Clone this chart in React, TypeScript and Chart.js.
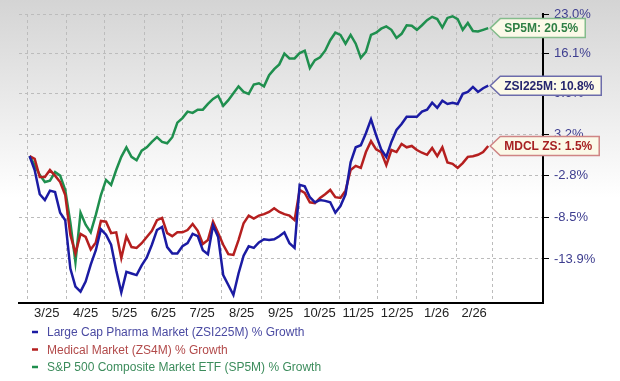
import React, { useEffect, useRef } from "react";
import { Chart, registerables } from "chart.js";

Chart.register(...registerables);

// ---------- data ----------
const BASE = Date.UTC(2025, 2, 1); // Mar 1, 2025
const DAY_MS = 86400000;
const FIRST_DAY = 2; // first sample: Mar 3, 2025
const STEP_DAYS = 4;

// Large Cap Pharma Market (ZSI225M) % growth
const ZSI225M = [
  0.0, -2.0, -5.4, -6.2, -4.9, -5.1, -7.9, -8.9, -15.1, -17.3,
  -17.9, -16.7, -14.6, -12.8, -10.1, -10.8, -12.1, -15.3, -18.0, -15.5,
  -15.7, -15.9, -14.7, -13.7, -12.1, -10.2, -9.8, -12.4, -13.2, -13.2,
  -12.3, -11.9, -10.7, -11.0, -12.8, -13.3, -9.6, -11.1, -15.9, -17.1,
  -18.3, -15.7, -13.5, -12.3, -12.5, -11.8, -11.4, -11.5, -11.4, -11.0,
  -10.5, -11.9, -12.5, -4.1, -4.3, -5.8, -6.5, -6.2, -6.3, -6.5,
  -7.9, -7.0, -5.4, -0.9, 1.3, 1.6, 3.4, 5.5, 3.1, 1.0,
  -0.1, 2.1, 3.9, 4.8, 5.9, 5.9, 5.9, 6.7, 7.0, 8.1,
  7.3, 8.4, 7.9, 8.1, 7.9, 9.5, 9.8, 10.6, 9.8, 10.4,
  10.8,
];

// Medical Market (ZS4M) % growth
const ZS4M = [
  0.0, -0.4, -3.0, -3.0, -2.0, -2.8, -3.7, -5.5, -10.8, -13.2,
  -10.7, -11.1, -12.7, -11.8, -9.0, -9.1, -10.6, -10.5, -13.8, -11.0,
  -12.4, -12.5, -11.9, -11.1, -10.3, -8.9, -8.6, -10.6, -11.0, -10.5,
  -10.5, -10.2, -9.4, -10.3, -12.0, -11.5, -9.1, -10.6, -12.1, -13.3,
  -13.4, -11.5, -9.3, -8.3, -8.7, -8.3, -8.1, -7.8, -7.3, -7.8,
  -8.1, -8.3, -8.9, -4.8, -5.2, -6.5, -6.6, -5.9, -5.4, -4.8,
  -5.8, -5.9, -4.9, -2.0, -1.4, -1.7, 0.6, 2.2, 1.0, 0.6,
  -1.3, 0.9, 0.6, 1.8, 1.3, 1.5, 0.9, 0.5, 0.2, 1.2,
  0.0, 1.3, -0.9, -1.1, -1.7, -1.0, -0.1, 0.0, 0.2, 0.6,
  1.5,
];

// S&P 500 Composite Market ETF (SP5M) % growth
const SP5M = [
  0.0, -1.3, -2.7, -3.7, -3.5, -2.3, -2.8, -4.8, -9.2, -14.3,
  -7.9, -9.5, -10.5, -8.2, -5.5, -3.4, -4.1, -2.0, -0.1, 1.3,
  -0.1, -0.6, 0.8, 1.3, 2.1, 2.8, 2.1, 1.9, 2.8, 5.0,
  5.7, 6.7, 6.5, 7.0, 7.0, 7.9, 8.7, 9.2, 7.6, 8.5,
  9.6, 10.7, 9.8, 9.5, 11.0, 11.2, 10.7, 12.5, 13.5, 14.3,
  16.1, 15.3, 15.3, 16.2, 16.6, 13.7, 15.0, 15.5, 16.6, 18.4,
  19.7, 19.3, 17.8, 19.3, 17.8, 15.4, 16.4, 19.3, 19.7, 20.4,
  20.8, 20.2, 18.8, 19.5, 21.0, 20.9, 20.2, 21.0, 21.9, 22.5,
  22.1, 20.6, 22.3, 22.6, 22.1, 20.2, 21.4, 20.0, 19.9, 20.2,
  20.5,
];

const DATES = ZSI225M.map((_, i) =>
  new Date(BASE + (FIRST_DAY + STEP_DAYS * i) * DAY_MS).toISOString().slice(0, 10)
);

const MONTH_LABELS = ["3/25", "4/25", "5/25", "6/25", "7/25", "8/25", "9/25", "10/25", "11/25", "12/25", "1/26", "2/26"];
const Y_TICKS = [23.0, 16.1, 9.6, 3.2, -2.8, -8.5, -13.9];
const Y_MAX = 23.0;
const Y_MIN = -19.25;
const X_MIN_DAY = -6.3;
const X_MAX_DAY = 405;

const SERIES_NAMES = ["ZSI225M", "MDCL ZS", "SP5M"];
const LEGEND_LABELS = [
  "Large Cap Pharma Market (ZSI225M) % Growth",
  "Medical Market (ZS4M) % Growth",
  "S&P 500 Composite Market ETF (SP5M) % Growth",
];

// ---------- styles ----------
const FONT = '"Liberation Sans", Arial, sans-serif';
const LINE_COLORS = ["#1b1ba3", "#b51f1f", "#1f8f4e"];
const LEGEND_TEXT_COLORS = ["#4a4aa2", "#b24a4a", "#3c8c5c"];
const CALLOUT_BORDERS = ["#6c6cab", "#cf8585", "#84bc8c"];
const CALLOUT_TEXT = ["#26266e", "#a72222", "#2f7f45"];
const CALLOUT_FILL = "#fbf9e8";
const GRID_COLOR = "#bcbcbc";

const dayOf = (d: string) => (Date.parse(d) - BASE) / DAY_MS;
const monthStart = (k: number) => (Date.UTC(2025, 2 + k, 1) - BASE) / DAY_MS;
const toY = (v: number) => Math.log(1 + v / 100);

const SERIES = [ZSI225M, ZS4M, SP5M];

const bgPlugin = {
  id: "bgGradient",
  beforeDraw(chart: any) {
    const { ctx, width, height } = chart;
    const g = ctx.createLinearGradient(0, 0, 0, height);
    g.addColorStop(0, "#d4d4d4");
    g.addColorStop(0.52, "#ffffff");
    g.addColorStop(1, "#ffffff");
    ctx.save();
    ctx.fillStyle = g;
    ctx.fillRect(0, 0, width, height);
    ctx.restore();
  },
};

const overlayPlugin = {
  id: "overlay",
  afterDraw(chart: any) {
    const ctx = chart.ctx;
    ctx.save();
    // callouts
    ctx.font = `bold 12px ${FONT}`;
    ctx.textBaseline = "middle";
    chart.data.datasets.forEach((_ds: any, i: number) => {
      const meta = chart.getDatasetMeta(i);
      const pt = meta.data[meta.data.length - 1];
      const series = SERIES[i];
      const text = `${SERIES_NAMES[i]}: ${series[series.length - 1].toFixed(1)}%`;
      const tipX = pt.x + 2;
      const y = pt.y;
      const h = 19;
      const tw = ctx.measureText(text).width;
      const bodyX = tipX + 10;
      const right = tipX + 14 + tw + 7;
      ctx.beginPath();
      ctx.moveTo(tipX, y);
      ctx.lineTo(bodyX, y - h / 2);
      ctx.lineTo(right, y - h / 2);
      ctx.lineTo(right, y + h / 2);
      ctx.lineTo(bodyX, y + h / 2);
      ctx.closePath();
      ctx.fillStyle = CALLOUT_FILL;
      ctx.fill();
      ctx.lineWidth = 1.5;
      ctx.strokeStyle = CALLOUT_BORDERS[i];
      ctx.stroke();
      ctx.fillStyle = CALLOUT_TEXT[i];
      ctx.fillText(text, tipX + 14, y + 1);
    });
    // legend
    ctx.font = `12px ${FONT}`;
    LEGEND_LABELS.forEach((label, i) => {
      const cy = 332 + i * 17.5;
      ctx.beginPath();
      ctx.moveTo(32, cy);
      ctx.lineTo(38, cy);
      ctx.lineWidth = 2.5;
      ctx.strokeStyle = LINE_COLORS[i];
      ctx.stroke();
      ctx.fillStyle = LEGEND_TEXT_COLORS[i];
      ctx.fillText(label, 47, cy + 1);
    });
    ctx.restore();
  },
};

export default function App() {
  const ref = useRef<HTMLCanvasElement>(null);
  useEffect(() => {
    Chart.defaults.font.family = FONT;
    const chart = new Chart(ref.current as HTMLCanvasElement, {
      type: "line",
      data: {
        datasets: SERIES.map((s, i) => ({
          label: LEGEND_LABELS[i],
          data: s.map((v, j) => ({ x: dayOf(DATES[j]), y: toY(v) })),
          borderColor: LINE_COLORS[i],
          borderWidth: 2.5,
          pointRadius: 0,
          tension: 0,
          fill: false,
          xAxisID: "x",
          yAxisID: "y",
        })),
      },
      options: {
        responsive: false,
        animation: false,
        events: [],
        layout: { padding: { left: 19, top: 14, right: 0, bottom: 0 } },
        plugins: { legend: { display: false }, tooltip: { enabled: false } },
        scales: {
          x: {
            type: "linear",
            position: "bottom",
            min: X_MIN_DAY,
            max: X_MAX_DAY,
            afterBuildTicks: (s: any) => {
              s.ticks = Array.from({ length: MONTH_LABELS.length + 1 }, (_, k) => ({ value: monthStart(k) }));
            },
            afterFit: (s: any) => {
              s.height = 0;
            },
            grid: { color: GRID_COLOR, lineWidth: 1, drawTicks: false },
            border: { display: true, color: "#000", width: 2, dash: [3, 3] },
            ticks: { display: false },
          },
          x2: {
            type: "linear",
            position: "bottom",
            min: X_MIN_DAY,
            max: X_MAX_DAY,
            afterBuildTicks: (s: any) => {
              s.ticks = MONTH_LABELS.map((_, k) => ({ value: (monthStart(k) + monthStart(k + 1)) / 2 }));
            },
            afterFit: (s: any) => {
              s.height = 78;
            },
            grid: { display: false, drawTicks: false },
            border: { display: false },
            ticks: {
              autoSkip: false,
              maxRotation: 0,
              padding: 3,
              color: "#222",
              font: { size: 13 },
              callback: (_v: any, idx: number) => MONTH_LABELS[idx],
            },
          },
          y: {
            type: "linear",
            position: "right",
            min: toY(Y_MIN),
            max: toY(Y_MAX),
            afterBuildTicks: (s: any) => {
              s.ticks = Y_TICKS.map((v) => ({ value: toY(v) }));
            },
            afterFit: (s: any) => {
              s.width = 77;
            },
            grid: {
              color: GRID_COLOR,
              lineWidth: 1,
              drawTicks: true,
              tickLength: 6,
              tickColor: "#000",
              tickWidth: 1,
              tickBorderDash: [],
            },
            border: { display: true, color: "#000", width: 2, dash: [3, 3] },
            ticks: {
              color: "#3d3d8f",
              font: { size: 13 },
              padding: 5,
              callback: (_v: any, idx: number) => Y_TICKS[idx].toFixed(1) + "%",
            },
          },
        },
      },
      plugins: [bgPlugin, overlayPlugin],
    } as any);
    return () => chart.destroy();
  }, []);
  return (
    <div style={{ position: "fixed", left: 0, top: 0, width: 620, height: 381 }}>
      <canvas ref={ref} width={620} height={381} style={{ display: "block" }} />
    </div>
  );
}
